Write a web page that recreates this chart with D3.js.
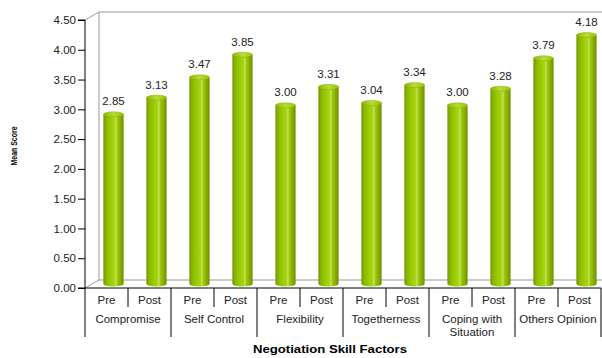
<!DOCTYPE html>
<html>
<head>
	<title>Negotiation Skill Factors</title>
	<script src="https://cdnjs.cloudflare.com/ajax/libs/d3/7.8.5/d3.min.js"></script>
	<style type="text/css">
		body { margin: 0; background: #fff; }
		text { font-family: "Liberation Sans", Arial, sans-serif; fill: #222; }
		.tick text { font-size: 11.5px; }
		.value { font-size: 11.5px; }
		.cat { font-size: 11.5px; }
		.title { font-weight: bold; fill: #000; }
	</style>
</head>
<body>
	<script type="text/javascript">
		"use strict";

		var factors = ["Compromise", "Self Control", "Flexibility", "Togetherness", "Coping with\nSituation", "Others Opinion"];
		var phases = ["Pre", "Post"];
		var preScores = [2.85, 3.47, 3.00, 3.04, 3.00, 3.79];
		var postScores = [3.13, 3.85, 3.31, 3.34, 3.28, 4.18];
		var yTicks = [0, 0.5, 1, 1.5, 2, 2.5, 3, 3.5, 4, 4.5];

		var bars = [];
		factors.forEach(function(f, i) {
			phases.forEach(function(p) {
				bars.push({ key: i + "-" + p, factor: f, phase: p, value: p === "Pre" ? preScores[i] : postScores[i] });
			});
		});

		var width = 602, height = 358;
		var plotLeft = 85, plotRight = 601, plotTop = 20, plotBottom = 288;
		var depthX = 14, depthY = -8;

		var svg = d3.select("body").append("svg")
			.attr("width", width)
			.attr("height", height);

		var x = d3.scaleBand()
			.domain(bars.map(function(d) { return d.key; }))
			.range([plotLeft, plotRight]);

		var xGroup = d3.scaleBand()
			.domain(factors)
			.range([plotLeft, plotRight]);

		var y = d3.scaleLinear()
			.domain([0, 4.5])
			.range([plotBottom, plotTop]);

		// gradient for the cylinders
		var defs = svg.append("defs");
		var grad = defs.append("linearGradient")
			.attr("id", "cyl")
			.attr("x1", 0).attr("x2", 1).attr("y1", 0).attr("y2", 0);
		[[0, "#6f9200"], [0.12, "#88b400"], [0.35, "#99cc00"], [0.55, "#a8d51a"],
		 [0.62, "#c6e65a"], [0.68, "#9fcb10"], [0.85, "#86ad00"], [1, "#6d8f00"]].forEach(function(s) {
			grad.append("stop").attr("offset", s[0]).attr("stop-color", s[1]);
		});
		var gradTop = defs.append("linearGradient")
			.attr("id", "cylTop")
			.attr("x1", 0).attr("x2", 1).attr("y1", 0).attr("y2", 0);
		[[0, "#8fb800"], [0.5, "#b9dc3a"], [1, "#9cc400"]].forEach(function(s) {
			gradTop.append("stop").attr("offset", s[0]).attr("stop-color", s[1]);
		});

		// back wall and floor
		svg.append("path")
			.attr("class", "wall")
			.attr("stroke", "#9a9a9a").attr("fill", "none")
			.attr("d", "M" + (plotLeft + depthX) + "," + (y(4.5) + depthY) + "H" + (plotRight + 1) +
				"M" + (plotLeft + depthX) + "," + (y(4.5) + depthY) + "V" + (y(0) + depthY) + "H" + (plotRight + 1) +
				"M" + plotLeft + "," + y(4.5) + "L" + (plotLeft + depthX) + "," + (y(4.5) + depthY) +
				"M" + plotLeft + "," + y(0) + "L" + (plotLeft + depthX) + "," + (y(0) + depthY));

		// y axis
		var yAxis = d3.axisLeft(y)
			.tickValues(yTicks)
			.tickSize(7)
			.tickFormat(d3.format(".2f"));
		var gy = svg.append("g")
			.attr("class", "y axis")
			.attr("transform", "translate(" + plotLeft + ",0)")
			.call(yAxis);
		gy.attr("font-family", null).attr("font-size", null);
		gy.selectAll("line, path").attr("stroke", "#000");
		gy.select(".domain").attr("d", "M-7," + y(4.5) + "H0V" + y(0) + "H-7");
		gy.selectAll(".tick text").attr("x", -9).attr("fill", "#222");

		// cylinders
		var bw = x.bandwidth() * 0.47;
		var ry = 2.5;
		var cx = function(d) { return x(d.key) + x.bandwidth() / 2 + depthX / 2; };
		var off = depthY / 2;

		var g = svg.append("g").attr("class", "bars")
			.selectAll("g")
			.data(bars)
			.enter()
			.append("g");

		g.append("path")
			.attr("fill", "url(#cyl)")
			.attr("d", function(d) {
				var c = cx(d), t = y(d.value) + off, b = y(0) + off;
				return "M" + (c - bw / 2) + "," + t + "V" + b +
					"A" + (bw / 2) + "," + ry + " 0 0 0 " + (c + bw / 2) + "," + b +
					"V" + t + "Z";
			});

		g.append("ellipse")
			.attr("fill", "url(#cylTop)")
			.attr("stroke", "#89b000")
			.attr("stroke-width", 0.5)
			.attr("cx", cx)
			.attr("cy", function(d) { return y(d.value) + off; })
			.attr("rx", bw / 2)
			.attr("ry", ry);

		g.append("text")
			.attr("class", "value")
			.attr("text-anchor", "middle")
			.attr("x", cx)
			.attr("y", function(d) { return y(d.value) + off - 9; })
			.text(function(d) { return d3.format(".2f")(d.value); });

		// x axis line
		svg.append("line")
			.attr("x1", plotLeft).attr("x2", plotRight)
			.attr("y1", plotBottom).attr("y2", plotBottom)
			.attr("stroke", "#000");

		// phase labels and dividers
		var lab = svg.append("g").attr("class", "x labels");
		lab.selectAll("text.phase")
			.data(bars)
			.enter()
			.append("text")
			.attr("class", "cat phase")
			.attr("text-anchor", "middle")
			.attr("x", function(d) { return x(d.key) + x.bandwidth() / 2; })
			.attr("y", plotBottom + 16)
			.text(function(d) { return d.phase; });

		lab.selectAll("line.short")
			.data(bars.filter(function(d) { return d.phase === "Post"; }))
			.enter()
			.append("line")
			.attr("class", "short")
			.attr("stroke", "#000")
			.attr("x1", function(d) { return x(d.key); })
			.attr("x2", function(d) { return x(d.key); })
			.attr("y1", plotBottom)
			.attr("y2", plotBottom + 19);

		var edges = factors.map(function(f) { return xGroup(f); }).concat([plotRight]);
		lab.selectAll("line.long")
			.data(edges)
			.enter()
			.append("line")
			.attr("class", "long")
			.attr("stroke", "#000")
			.attr("x1", function(d) { return d; })
			.attr("x2", function(d) { return d; })
			.attr("y1", plotBottom)
			.attr("y2", plotBottom + 49);

		lab.selectAll("text.group")
			.data(factors)
			.enter()
			.append("text")
			.attr("class", "cat group")
			.attr("text-anchor", "middle")
			.attr("y", plotBottom + 35)
			.each(function(d) {
				var el = d3.select(this);
				d.split("\n").forEach(function(line, i) {
					el.append("tspan")
						.attr("x", xGroup(d) + xGroup.bandwidth() / 2)
						.attr("dy", i === 0 ? 0 : 12.5)
						.text(line);
				});
			});

		// axis titles
		svg.append("text")
			.attr("class", "title")
			.attr("text-anchor", "middle")
			.attr("x", 330)
			.attr("y", 353)
			.attr("font-size", "11px")
			.attr("textLength", 154)
			.attr("lengthAdjust", "spacingAndGlyphs")
			.text("Negotiation Skill Factors");

		svg.append("text")
			.attr("class", "title")
			.attr("text-anchor", "middle")
			.attr("transform", "translate(17,146) rotate(-90)")
			.attr("font-size", "9px")
			.attr("textLength", 39)
			.attr("lengthAdjust", "spacingAndGlyphs")
			.text("Mean Score");
	</script>
</body>
</html>
